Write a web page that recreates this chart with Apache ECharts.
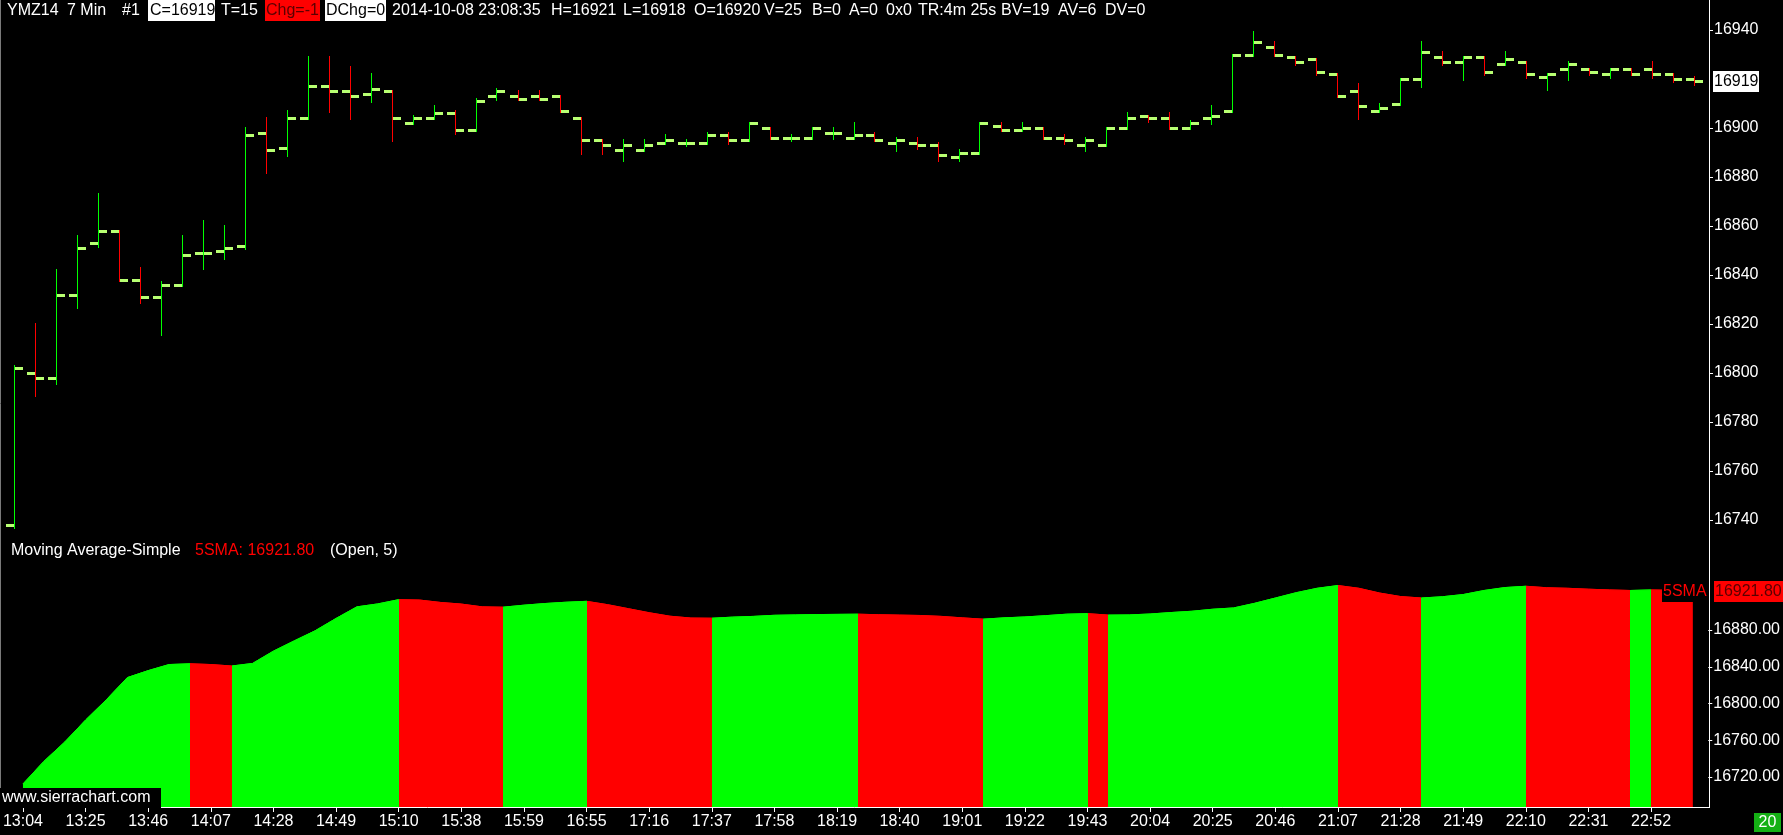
<!DOCTYPE html>
<html><head><meta charset="utf-8">
<script src="https://cdn.jsdelivr.net/npm/echarts@6.0.0/dist/echarts.min.js"></script>
<style>html,body{margin:0;padding:0;background:#000;overflow:hidden}#c{width:1783px;height:835px;}</style>
</head><body><div id="c"></div><script>
// ---- data ----
const categories = ['13:04','13:11','13:18','13:25','13:32','13:39','13:46','13:53','14:00','14:07',
 '14:14','14:21','14:28','14:35','14:42','14:49','14:56','15:03','15:10','15:17',
 '15:31','15:38','15:45','15:52','15:59','16:06','16:48','16:55','17:02','17:09',
 '17:16','17:23','17:30','17:37','17:44','17:51','17:58','18:05','18:12','18:19',
 '18:26','18:33','18:40','18:47','18:54','19:01','19:08','19:15','19:22','19:29',
 '19:36','19:43','19:50','19:57','20:04','20:11','20:18','20:25','20:32','20:39',
 '20:46','20:53','21:00','21:07','21:14','21:21','21:28','21:35','21:42','21:49',
 '21:56','22:03','22:10','22:17','22:24','22:31','22:38','22:45','22:52','22:59','23:06'];
const opens = [16738,16800,16798,16832,16853,16858,16838,16831,16836,16849,
 16850,16852,16898,16892,16904,16917,16915,16914,16915,16902,
 16904,16906,16899,16913,16913,16913,16913,16904,16895,16891,
 16891,16894,16894,16894,16897,16895,16900,16896,16896,16898,
 16896,16897,16894,16894,16893,16888,16890,16901,16899,16900,
 16896,16893,16893,16900,16905,16904,16900,16904,16907,16930,
 16933,16929,16928,16922,16915,16907,16910,16920,16929,16927,
 16929,16926,16927,16921,16924,16924,16922,16924,16924,16922,16920];
const highs = [16803,16820,16842,16856,16873,16858,16843,16837,16856,16862,
 16860,16900,16904,16907,16929,16929,16925,16922,16915,16905,
 16909,16907,16912,16916,16915,16915,16913,16904,16895,16895,
 16895,16897,16895,16898,16898,16902,16900,16897,16900,16900,
 16902,16898,16896,16896,16894,16891,16902,16902,16902,16900,
 16897,16896,16900,16906,16905,16906,16903,16909,16930,16939,
 16935,16929,16928,16922,16918,16910,16920,16935,16931,16929,
 16929,16931,16927,16922,16927,16924,16924,16924,16927,16922,16921];
const lows = [16737,16791,16796,16827,16852,16838,16829,16816,16836,16843,
 16847,16851,16882,16889,16904,16907,16904,16911,16895,16902,
 16904,16898,16899,16912,16912,16912,16907,16890,16890,16887,
 16891,16894,16893,16894,16894,16895,16896,16895,16896,16896,
 16896,16895,16891,16892,16887,16887,16890,16899,16899,16896,
 16894,16891,16893,16900,16903,16900,16900,16902,16907,16930,
 16930,16926,16922,16913,16904,16907,16910,16917,16926,16920,
 16922,16926,16921,16916,16920,16922,16921,16922,16921,16919,16918];
const closes = [16802,16798,16832,16851,16858,16838,16831,16836,16848,16849,
 16851,16897,16891,16904,16917,16915,16913,16916,16904,16904,
 16906,16899,16911,16915,16912,16912,16907,16895,16893,16893,
 16893,16895,16894,16897,16895,16902,16896,16896,16900,16898,
 16897,16895,16895,16893,16889,16890,16902,16899,16900,16896,
 16895,16895,16900,16904,16904,16900,16902,16905,16930,16935,
 16930,16927,16923,16913,16909,16908,16920,16931,16927,16929,
 16923,16928,16922,16922,16926,16923,16924,16922,16922,16920,16919];
const sma = [16712.4,16737.0,16758.0,16782.0,16804.2,16828.2,16835.8,16842.4,16843.2,16842.4,
 16840.8,16843.6,16857.0,16868.2,16879.2,16892.6,16905.2,16908.4,16913.0,16912.6,
 16910.0,16908.2,16905.2,16904.8,16907.0,16908.8,16910.2,16911.2,16907.6,16903.2,
 16898.8,16895.0,16893.0,16892.8,16894.0,16894.8,16896.0,16896.4,16896.8,16897.0,
 16897.2,16896.6,16896.2,16895.8,16894.8,16893.2,16891.8,16893.2,16894.2,16895.6,
 16897.2,16897.8,16896.2,16896.4,16897.4,16899.0,16900.4,16902.6,16904.0,16909.0,
 16914.8,16920.6,16925.4,16928.4,16925.4,16920.2,16916.4,16914.8,16916.2,16918.6,
 16923.0,16926.2,16927.6,16926.0,16925.4,16924.4,16923.6,16923.0,16923.6,16923.2,16921.8];
const priceTicks = [16740,16760,16780,16800,16820,16840,16860,16880,16900,16940];
const smaTicks = [16720,16760,16800,16840,16880];

// ---- styling ----
const UP = '#00ff00', DOWN = '#ff0000', TICK = '#b8ff72';
const FONT = '"Liberation Sans", Arial, sans-serif';

const ohlc = categories.map((c, i) => [i, opens[i], highs[i], lows[i], closes[i]]);

// direction-coloured sections of the SMA area
const pieces = [];
let start = 0, cur = null;
for (let i = 1; i < sma.length; i++) {
  const col = sma[i] >= sma[i - 1] ? UP : DOWN;
  if (cur === null) { cur = col; start = i - 1; }
  else if (col !== cur) { pieces.push({gte: start, lte: i - 1, color: cur}); cur = col; start = i - 1; }
}
pieces.push({gte: start, lte: sma.length - 1, color: cur});

function renderBar(params, api) {
  const i = api.value(0);
  const o = api.coord([i, api.value(1)]);
  const h = api.coord([i, api.value(2)]);
  const l = api.coord([i, api.value(3)]);
  const c = api.coord([i, api.value(4)]);
  const x = Math.round(o[0]);
  const up = api.value(4) >= api.value(1);
  const yh = Math.round(h[1]), yl = Math.round(l[1]);
  return {type: 'group', children: [
    {type: 'rect', shape: {x: x, y: yh - 1, width: 1, height: yl - yh + 3}, style: {fill: up ? UP : DOWN}},
    {type: 'rect', shape: {x: x - 8, y: Math.round(o[1]) - 1, width: 8, height: 3}, style: {fill: TICK}},
    {type: 'rect', shape: {x: x + 1, y: Math.round(c[1]) - 1, width: 8, height: 3}, style: {fill: TICK}}
  ]};
}

const option = {
  animation: false,
  backgroundColor: '#000',
  grid: [
    {left: 3, top: 0, width: 1701, height: 540},
    {left: 3, top: 540, width: 1701, height: 268}
  ],
  xAxis: [
    {gridIndex: 0, type: 'category', data: categories, boundaryGap: true, show: false},
    {gridIndex: 1, type: 'category', data: categories, boundaryGap: true,
     axisLine: {show: false},
     axisTick: {show: true, interval: 2, alignWithLabel: true, length: 4, lineStyle: {color: '#fff'}},
     axisLabel: {interval: 2, color: '#fff', fontSize: 16, fontFamily: FONT, margin: 6,
                 alignMinLabel: 'center', alignMaxLabel: 'center', hideOverlap: false}}
  ],
  yAxis: [
    {gridIndex: 0, type: 'value', position: 'right', offset: 5, min: 16731.84, max: 16952.245,
     axisLine: {show: false}, splitLine: {show: false},
     axisTick: {show: true, length: 4, lineStyle: {color: '#fff'}, customValues: priceTicks},
     axisLabel: {color: '#fff', fontSize: 16, fontFamily: FONT, margin: 5, customValues: priceTicks,
                 formatter: v => String(Math.round(v))}},
    {gridIndex: 1, type: 'value', position: 'right', offset: 5, min: 16686.26, max: 16977.96,
     axisLine: {show: false}, splitLine: {show: false},
     axisTick: {show: true, length: 4, lineStyle: {color: '#fff'}, customValues: smaTicks},
     axisLabel: {color: '#fff', fontSize: 16, fontFamily: FONT, margin: 5, customValues: smaTicks,
                 formatter: v => v.toFixed(2)}}
  ],
  visualMap: [{type: 'piecewise', show: false, dimension: 0, seriesIndex: 1, pieces: pieces, outOfRange: {color: UP}}],
  series: [
    {type: 'custom', xAxisIndex: 0, yAxisIndex: 0, data: ohlc, renderItem: renderBar,
     encode: {x: 0, y: [1, 2, 3, 4]}, clip: false, silent: true},
    {type: 'line', xAxisIndex: 1, yAxisIndex: 1, data: sma, symbol: 'none', showSymbol: false,
     lineStyle: {width: 1}, areaStyle: {opacity: 1}, silent: true}
  ]
};

const chart = echarts.init(document.getElementById('c'), null, {renderer: 'canvas'});
chart.setOption(option);

const last = closes.length - 1;
const pC = chart.convertToPixel({gridIndex: 0}, [last, closes[last]]);
const pS = chart.convertToPixel({gridIndex: 1}, [last, sma[last]]);

function txt(x, y, s, fill, extra) {
  return {type: 'text', x: x, y: y, z: 100,
    style: Object.assign({text: s, fill: fill || '#fff', font: '16px ' + FONT, verticalAlign: 'middle', align: 'left'}, extra || {})};
}
function box(x, y, w, h, fill) {
  return {type: 'rect', z: 99, shape: {x: x, y: y, width: w, height: h}, style: {fill: fill}};
}
function ln(x1, y1, x2, y2, c) {
  return {type: 'line', z: 98, shape: {x1: x1, y1: y1, x2: x2, y2: y2}, style: {stroke: c, lineWidth: 1}};
}
const HY = 11;
const g = [
  ln(1709.5, 0, 1709.5, 808, '#fff'),
  ln(0, 807.5, 1709.5, 807.5, '#fff'),
  ln(0.5, 0, 0.5, 807, '#7a7a7a'),
  txt(7, HY, 'YMZ14'), txt(67, HY, '7 Min'), txt(122, HY, '#1'),
  box(148, 0, 67, 21, '#fff'), txt(150, HY, 'C=' + closes[last], '#000'),
  txt(221, HY, 'T=15'),
  box(265, 0, 55, 21, '#ff0000'), txt(266, HY, 'Chg=' + (closes[last] - closes[last - 1]), '#5a0000'),
  box(325, 0, 61, 21, '#fff'), txt(326, HY, 'DChg=0', '#000'),
  txt(392, HY, '2014-10-08 23:08:35'),
  txt(551, HY, 'H=' + highs[last]), txt(623, HY, 'L=' + lows[last]), txt(694, HY, 'O=' + opens[last]),
  txt(764, HY, 'V=25'), txt(812, HY, 'B=0'), txt(849, HY, 'A=0'), txt(886, HY, '0x0'),
  txt(918, HY, 'TR:4m 25s'), txt(1001, HY, 'BV=19'), txt(1058, HY, 'AV=6'), txt(1105, HY, 'DV=0'),
  txt(11, 551, 'Moving Average-Simple'),
  txt(195, 551, '5SMA: ' + sma[last].toFixed(2), '#ff0000'),
  txt(330, 551, '(Open, 5)'),
  box(1713, Math.round(pC[1]) - 10, 46, 21, '#fff'), txt(1714, pC[1] + 0.5, String(closes[last]), '#000'),
  box(1662, Math.round(pS[1]) - 11, 42, 21, '#000'), txt(1663, pS[1], '5SMA', '#ff0000'),
  box(1714, Math.round(pS[1]) - 11, 69, 21, '#ff0000'), txt(1715, pS[1], sma[last].toFixed(2), '#5a0000'),
  box(0, 788, 161, 20, '#000'), txt(2, 798, 'www.sierrachart.com'),
  box(1754, 813, 27, 19, '#14b014'), txt(1767.5, 823, '20', '#fff', {align: 'center'})
];
chart.setOption({graphic: g});
</script></body></html>
